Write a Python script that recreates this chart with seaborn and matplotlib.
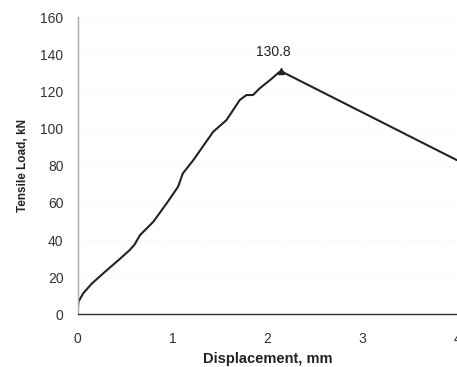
import matplotlib
matplotlib.use("Agg")
import matplotlib.pyplot as plt
import seaborn as sns
import pandas as pd

displacement = [0.0, 0.01, 0.06, 0.15, 0.27, 0.36, 0.45, 0.55, 0.60, 0.66, 0.80, 0.94, 1.06, 1.11,
                1.22, 1.32, 1.43, 1.57, 1.71, 1.78, 1.85, 1.92, 2.03, 2.13, 2.15, 4.0]
load = [0.5, 6.8, 11.3, 16.5, 22.0, 26.0, 30.0, 34.6, 37.5, 42.7, 49.9, 59.8, 68.7, 75.9,
        83.0, 90.3, 98.3, 104.6, 115.4, 118.1, 118.1, 121.7, 126.2, 130.6, 130.8, 83.0]
peak_x = 2.15
peak_y = 130.8
peak_label = "130.8"
x_ticks = [0, 1, 2, 3, 4]
y_ticks = [0, 20, 40, 60, 80, 100, 120, 140, 160]

sns.set_style("white")
plt.rcParams['font.family'] = ['Liberation Sans', 'DejaVu Sans']

df = pd.DataFrame({"Displacement": displacement, "Load": load})

fig = plt.figure(figsize=(4.57, 3.67), dpi=100)
ax = fig.add_axes([0.1696, 0.1436, 0.8304, 0.8094])

for yv in y_ticks[1:]:
    ax.axhline(yv, color="#ececec", lw=0.6, ls=(0, (2, 4)), zorder=0)

sns.lineplot(data=df, x="Displacement", y="Load", ax=ax, color="#222222", lw=1.5,
             sort=False, estimator=None)
ax.plot([peak_x], [peak_y], marker="^", color="#222222", ms=4)
ax.annotate(peak_label, (peak_x, peak_y), xytext=(-6, 9), textcoords="offset points",
            ha="center", va="bottom", fontsize=10, color="#222222")

ax.set_xlim(0, 4)
ax.set_ylim(0, 160)
ax.set_xticks(x_ticks)
ax.set_yticks(y_ticks)
ax.tick_params(axis="both", length=0, labelsize=10, colors="#333333")
ax.tick_params(axis="x", pad=13)
ax.tick_params(axis="y", pad=10)
ax.set_xlabel("Displacement, mm", fontsize=10.5, fontweight="bold", color="#222222")
ax.xaxis.set_label_coords(0.5, -0.152)
ax.xaxis.label.set_va("center")
ax.set_ylabel("Tensile Load, kN", fontsize=8.5, fontweight="bold", labelpad=8, color="#222222")

for s in ["top", "right"]:
    ax.spines[s].set_visible(False)
ax.spines["left"].set_color("#aaaaaa")
ax.spines["left"].set_linewidth(1.0)
ax.spines["bottom"].set_color("#333333")
ax.spines["bottom"].set_linewidth(1.0)

fig.savefig("out.png", dpi=100)
